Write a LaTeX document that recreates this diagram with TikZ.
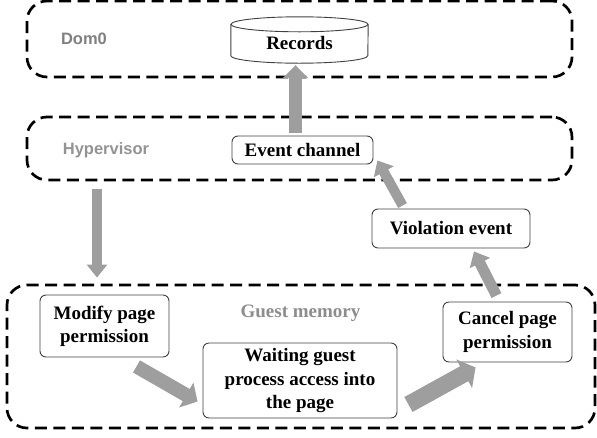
\documentclass[tikz,border=0pt]{standalone}
\usepackage{fontspec}
\setmainfont{Liberation Serif}
\newfontfamily\laysans{Liberation Sans}
\usetikzlibrary{arrows.meta,positioning}
\definecolor{arrgray}{RGB}{158,158,158}
\definecolor{laygray}{RGB}{128,128,128}
\tikzset{fat/.style 2 args={draw=arrgray, line width=#1, -{Triangle[width=#2, length=13pt]}}}

\begin{document}
\begin{tikzpicture}[x=1pt,y=-1pt]
  	\tikzstyle{layer}=[draw=black, line width=2.7pt, dash pattern=on 12pt off 6.5pt, rounded corners=20pt]
  	\tikzstyle{proc}=[draw=black!75, line width=0.9pt, rounded corners=6pt, fill=white, align=center, inner sep=0pt, font=\fontsize{19}{23.3}\selectfont\bfseries]
  	\tikzstyle{laylabel}=[text=laygray, font=\laysans\fontsize{16.5}{20}\selectfont\bfseries]
  	\useasboundingbox (0,0) rectangle (597,437);
  	% the three layers
  	\node[layer, minimum width=545pt, minimum height=76pt] (dom) at (299.5,39) {};
  	\node[layer, minimum width=545pt, minimum height=63pt] (hyp) at (299.5,148.5) {};
  	\node[layer, minimum width=588pt, minimum height=143pt] (guest) at (301,356.5) {};
  	\node[laylabel] (domlbl) at (84,39) {Dom0};
  	\node[laylabel, text=laygray!85] (hyplbl) at (106,150) {Hypervisor};
  	\node[text=laygray!90, font=\fontsize{19}{23.3}\selectfont\bfseries] (guestlbl) at (300.5,313) {Guest memory};
  	% records store
  	\node[minimum width=137pt, minimum height=46pt, inner sep=0pt] (rec) at (299.5,40) {};
  	\draw[draw=black!75, line width=0.9pt, fill=white] ([yshift=-7.5pt]rec.north west) -- ([yshift=7.5pt]rec.south west)
  	  arc[start angle=180, end angle=360, x radius=68.5pt, y radius=7.5pt] -- ([yshift=-7.5pt]rec.north east);
  	\draw[draw=black!75, line width=0.9pt] ([yshift=-7.5pt]rec.north) ellipse[x radius=68.5pt, y radius=7.5pt];
  	\node[font=\fontsize{19}{23.3}\selectfont\bfseries] (rectxt) at (299.5,43) {Records};
  	% steps
  	\node[proc, minimum width=141pt, minimum height=28pt] (evt) at (302.5,150) {Event channel};
  	\node[proc, minimum width=158pt, minimum height=39pt] (viol) at (451,228.5) {Violation event};
  	\node[proc, minimum width=129pt, minimum height=62pt] (mod) at (104.5,326) {Modify page\\permission};
  	\node[proc, minimum width=194pt, minimum height=75pt] (wait) at (300,380.5) {Waiting guest\\process access into\\the page};
  	\node[proc, minimum width=129pt, minimum height=60pt] (cancel) at (507.5,332) {Cancel page\\permission};
  	
  	\draw[fat={10pt}{20pt}, shorten <=8pt, shorten >=17pt] ([xshift=-7.5pt]mod.north |- hyp.south) -- ([xshift=-7.5pt]mod.north);
  	\draw[fat={14pt}{28pt}] ([xshift=32pt,yshift=-9pt]mod.south) -- ([xshift=-5pt,yshift=-21pt]wait.west);
  	\draw[fat={17pt}{32pt}] ([xshift=11pt,yshift=-24pt]wait.east) -- ([xshift=33pt,yshift=-5pt]cancel.south west);
  	\draw[fat={11pt}{22pt}] ([xshift=-11pt,yshift=6pt]cancel.north) -- ([xshift=23pt,yshift=-3pt]viol.south);
  	\draw[fat={10pt}{22pt}] ([xshift=31pt,yshift=3pt]viol.north west) -- ([xshift=4pt,yshift=4pt]evt.south east);
  	\draw[fat={13pt}{25pt}, shorten <=3pt, shorten >=2pt] ([xshift=-7pt]evt.north) -- ([xshift=-7pt]evt.north |- rec.south);
\end{tikzpicture}
\end{document}
